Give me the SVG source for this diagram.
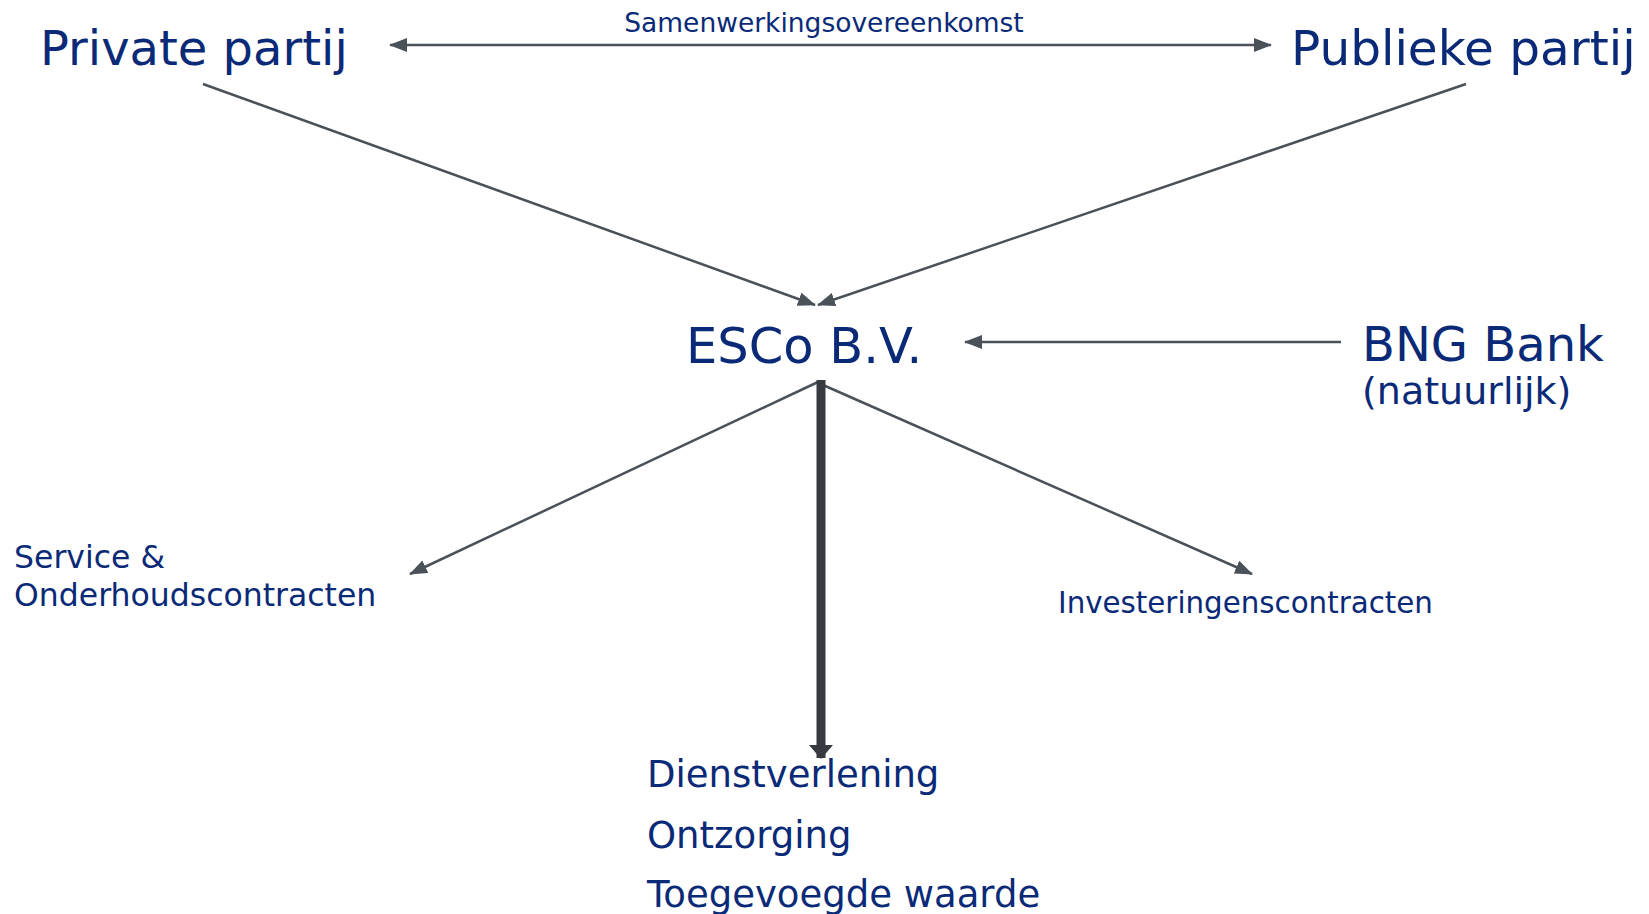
<svg xmlns="http://www.w3.org/2000/svg" width="1649" height="914" viewBox="0 0 1649 914">
<style>
.t{font-family:"DejaVu Sans",Verdana,sans-serif;fill:#0a2a78}
.c{stroke:#4b5159;stroke-width:2.5;fill:none}
</style>
<defs>
<marker id="ah" viewBox="0 0 18 14" refX="17" refY="7" markerWidth="18" markerHeight="14" markerUnits="userSpaceOnUse" orient="auto-start-reverse">
<path d="M0,0 L18,7 L0,14 Z" fill="#4b5159"/>
</marker>
<marker id="ahb" viewBox="0 0 14 24" refX="13" refY="12" markerWidth="14" markerHeight="24" markerUnits="userSpaceOnUse" orient="auto">
<path d="M0,0 L14,12 L0,24 Z" fill="#373a40"/>
</marker>
</defs>
<g id="connectors">
<line class="c" x1="390" y1="45" x2="1271" y2="45" marker-start="url(#ah)" marker-end="url(#ah)"/>
<line class="c" x1="203" y1="84" x2="815" y2="305" marker-end="url(#ah)"/>
<line class="c" x1="1466" y1="84" x2="818" y2="305" marker-end="url(#ah)"/>
<line class="c" x1="1341" y1="342" x2="965" y2="342" marker-end="url(#ah)"/>
<line class="c" x1="818" y1="382" x2="410" y2="574" marker-end="url(#ah)"/>
<line class="c" x1="823" y1="385" x2="1252" y2="574" marker-end="url(#ah)"/>
<line x1="821" y1="380" x2="821" y2="758" stroke="#373a40" stroke-width="9" marker-end="url(#ahb)"/>
<text class="t" x="824" y="32" font-size="26.5" text-anchor="middle">Samenwerkingsovereenkomst</text>
</g>
<g id="private"><text class="t" x="40" y="65" font-size="48">Private partij</text></g>
<g id="publiek"><text class="t" x="1291" y="65" font-size="48.5">Publieke partij</text></g>
<g id="esco"><text class="t" x="686" y="363" font-size="49.5">ESCo B.V.</text></g>
<g id="bng">
<text class="t" x="1362" y="361" font-size="48">BNG Bank</text>
<text class="t" x="1362" y="404" font-size="38">(natuurlijk)</text>
</g>
<g id="service">
<text class="t" x="14" y="568" font-size="31.5">Service &amp;</text>
<text class="t" x="14" y="606" font-size="31.5">Onderhoudscontracten</text>
</g>
<g id="investering"><text class="t" x="1058" y="613" font-size="29.3">Investeringenscontracten</text></g>
<g id="diensten">
<text class="t" x="647" y="787" font-size="37">Dienstverlening</text>
<text class="t" x="647" y="848" font-size="37">Ontzorging</text>
<text class="t" x="647" y="907" font-size="37">Toegevoegde waarde</text>
</g>
</svg>
